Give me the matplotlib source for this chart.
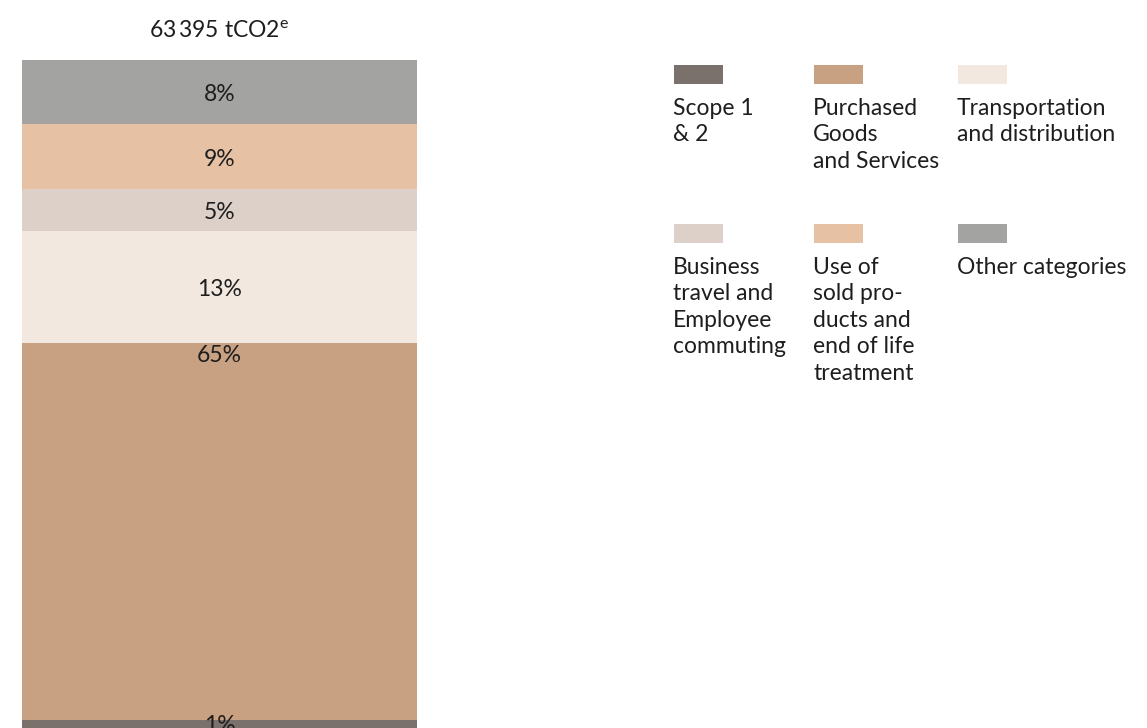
import matplotlib.pyplot as plt
from matplotlib.patches import Rectangle

plt.rcParams['font.family'] = ['Lato', 'DejaVu Sans']

# segments from bottom to top
categories = ["Scope 1\n& 2",
              "Purchased\nGoods\nand Services",
              "Transportation\nand distribution",
              "Business\ntravel and\nEmployee\ncommuting",
              "Use of\nsold pro-\nducts and\nend of life\ntreatment",
              "Other categories"]
shares = [1, 65, 13, 5, 9, 8]                 # printed labels, %
segment_sizes = [8, 377, 112, 42, 65, 64]     # drawn heights
colors = ["#7a716c", "#c8a082", "#f2e8df", "#ddd0c8", "#e6c1a4", "#a3a3a1"]
total_label = "63\u2009395 tCO2"

W, H = 1147, 728
fig = plt.figure(figsize=(W / 100, H / 100), dpi=100)
txt_col = "#1e1e1e"
fs = 16.5

# BAR
bar_top = 60
ax = fig.add_axes([22 / W, 0, (417 - 22) / W, (H - bar_top) / H])
ax.set_xlim(-0.5, 0.5)
ax.set_ylim(0, sum(segment_sizes))
ax.axis("off")

bottom = 0
for size, share, col in zip(segment_sizes, shares, colors):
    ax.bar(0, size, width=1, bottom=bottom, color=col, linewidth=0)
    top = bottom + size
    if size > 200:
        base = top - 19      # label hangs from the top edge
    elif size < 20:
        base = top - 12
    else:
        base = bottom + size / 2 - 9
    ax.text(0, base, f"{share}%", ha="center", va="baseline",
            fontsize=fs, color=txt_col, clip_on=False)
    bottom = top

# title above the bar
ax.text(0, sum(segment_sizes) + 22, total_label + r"$^{\mathregular{e}}$",
        ha="center", va="baseline", fontsize=fs, color=txt_col,
        clip_on=False)

# LEGEND (pixel coordinates)
lg = fig.add_axes([0, 0, 1, 1], facecolor="none")
lg.set_xlim(0, W)
lg.set_ylim(H, 0)
lg.axis("off")

col_x = [674, 814, 958]
row_y = [65, 224]
for k, (label, col) in enumerate(zip(categories, colors)):
    x = col_x[k % 3]
    y = row_y[k // 3]
    lg.add_patch(Rectangle((x, y), 49, 19, color=col, linewidth=0))
    lg.text(x - 1, y + 33, label, ha="left", va="top",
            fontsize=fs, color=txt_col, linespacing=1.32)

fig.savefig("out.png", dpi=100)
